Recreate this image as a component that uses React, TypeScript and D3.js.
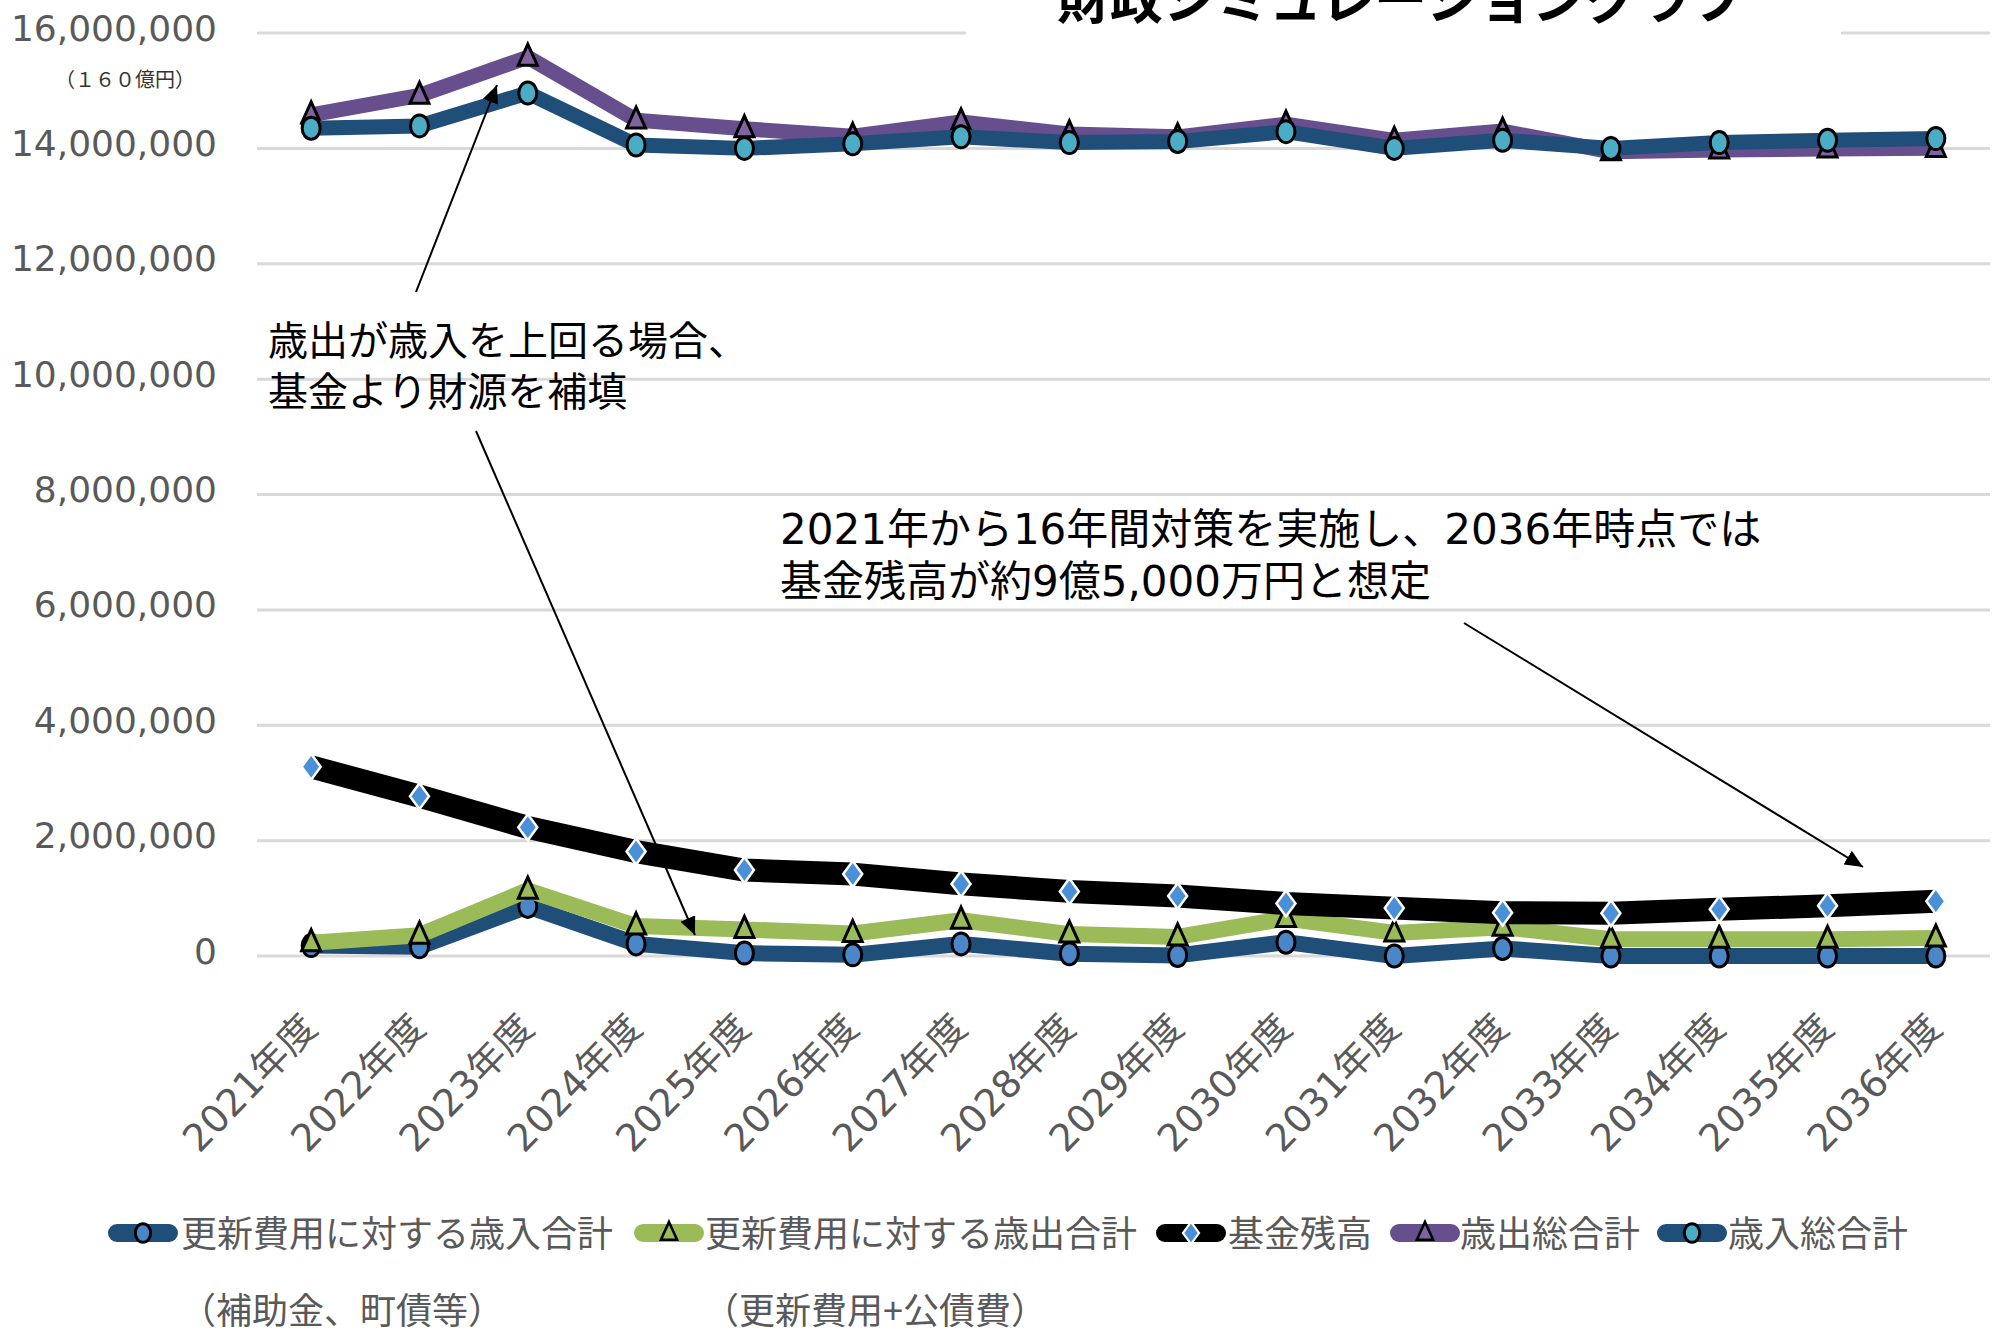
import * as d3 from 'd3';
import React from 'react';

// 単位: 千円
const years = ['2021年度', '2022年度', '2023年度', '2024年度', '2025年度', '2026年度', '2027年度', '2028年度',
  '2029年度', '2030年度', '2031年度', '2032年度', '2033年度', '2034年度', '2035年度', '2036年度'];

const renewalRevenue = [180000, 160000, 860000, 210000, 50000, 20000, 210000, 40000,
  10000, 240000, 0, 130000, 0, 0, 0, 0];
const renewalExpense = [230000, 360000, 1140000, 520000, 460000, 390000, 620000, 380000,
  330000, 650000, 400000, 500000, 290000, 290000, 290000, 310000];
const fundBalance = [3280000, 2770000, 2230000, 1810000, 1490000, 1420000, 1250000, 1120000,
  1040000, 910000, 830000, 750000, 740000, 810000, 870000, 950000];
const expenseTotal = [14580000, 14920000, 15580000, 14490000, 14340000, 14210000, 14460000, 14250000,
  14200000, 14420000, 14140000, 14300000, 13940000, 13970000, 13990000, 14000000];
const revenueTotal = [14350000, 14390000, 14960000, 14060000, 14000000, 14080000, 14200000, 14100000,
  14120000, 14290000, 14000000, 14140000, 14000000, 14100000, 14140000, 14170000];

const yTicks = [0, 2000000, 4000000, 6000000, 8000000, 10000000, 12000000, 14000000, 16000000];

const W = 1999, H = 1333;
const gray = '#595959';
const jp = "'Noto Sans CJK JP', sans-serif";

const tri = 'M0,-13 L9.5,8 L-9.5,8 Z';
const dia = 'M0,-13 L9.5,0 L0,13 L-9.5,0 Z';

type Series = { name: string, values: number[], color: string, width: number, marker: string, fill: string };

const series: Series[] = [
  { name: '更新費用に対する歳入合計', values: renewalRevenue, color: '#1F4E79', width: 16, marker: 'circle', fill: '#4A86C8' },
  { name: '更新費用に対する歳出合計', values: renewalExpense, color: '#9BBB59', width: 16, marker: 'triangle', fill: '#9BBB59' },
  { name: '基金残高', values: fundBalance, color: '#000000', width: 23, marker: 'diamond', fill: '#4A90D9' },
  { name: '歳出総合計', values: expenseTotal, color: '#674E8C', width: 15, marker: 'triangle', fill: '#8064A2' },
  { name: '歳入総合計', values: revenueTotal, color: '#1F4E79', width: 15, marker: 'circle', fill: '#4BACC6' },
];

const Marker = ({ kind, fill, cx, cy, s = 1 }) => {
  const t = `translate(${cx},${cy}) scale(${s})`;
  if (kind === 'circle') return <ellipse cx={cx} cy={cy} rx={9 * s} ry={11 * s} fill={fill} stroke="#000" strokeWidth={3} />;
  if (kind === 'triangle') return <path d={tri} transform={t} fill={fill} stroke="#000" strokeWidth={3} strokeLinejoin="miter" />;
  return <path d={dia} transform={t} fill={fill} stroke="#fff" strokeWidth={2.5} />;
};

const App = () => {
  const x = d3.scalePoint<string>().domain(years).range([257, 1990]).padding(0.5);
  const y = d3.scaleLinear().domain([0, 16000000]).range([956, 33]);
  const line = d3.line<number>().x((_, i) => x(years[i])!).y(d => y(d));

  const legend = [
    { sx: 108, tx: 181, sub: '（補助金、町債等）', subX: 180 },
    { sx: 634, tx: 705, sub: '（更新費用+公債費）', subX: 703 },
    { sx: 1156, tx: 1228 },
    { sx: 1390, tx: 1460 },
    { sx: 1657, tx: 1728 },
  ];
  const ly = 1233;

  return (
    <svg width={W} height={H} style={{ position: 'absolute', left: 0, top: 0, background: '#fff' }}>
      <defs>
        <marker id="arr" markerUnits="userSpaceOnUse" markerWidth={20} markerHeight={16} refX={18} refY={8} orient="auto">
          <path d="M0,0 L18,8 L0,16 Z" fill="#000" />
        </marker>
      </defs>
      <rect width={W} height={H} fill="#fff" />

      {/* grid */}
      {yTicks.map(t => (
        <line key={t} x1={257} x2={1990} y1={y(t)} y2={y(t)} stroke="#D9D9D9" strokeWidth={3} />
      ))}
      {yTicks.map(t => (
        <text key={'l' + t} x={217} y={y(t) - 5} textAnchor="end" dominantBaseline="central"
          fontFamily="'DejaVu Sans', sans-serif" fontSize={36} fill={gray}>{d3.format(',')(t)}</text>
      ))}
      <text x={125} y={78} textAnchor="middle" dominantBaseline="central" fontFamily={jp} fontSize={20} fill="#333">（１６０億円）</text>

      {/* title (cut at top) */}
      <rect x={966} y={0} width={875} height={46} fill="#fff" />
      <text x={1057} y={19} fontFamily={jp} fontWeight={700} fontSize={53} fill="#000">財政シミュレーショングラフ</text>

      {/* series */}
      {series.map(s => (
        <g key={s.name}>
          <path d={line(s.values)!} fill="none" stroke={s.color} strokeWidth={s.width} strokeLinejoin="round" strokeLinecap="butt" />
          {s.values.map((v, i) => (
            <Marker key={i} kind={s.marker} fill={s.fill} cx={x(years[i])} cy={y(v)} />
          ))}
        </g>
      ))}

      {/* x labels */}
      {years.map(yr => (
        <text key={yr} transform={`translate(${x(yr)! + 8},1030) rotate(-46)`} textAnchor="end"
          fontFamily={"'DejaVu Sans', " + jp} fontSize={38} fill={gray}>{yr}</text>
      ))}

      {/* annotations */}
      <text x={268} y={338} dominantBaseline="central" fontFamily={jp} fontSize={40} fill="#000">歳出が歳入を上回る場合、</text>
      <text x={268} y={389} dominantBaseline="central" fontFamily={jp} fontSize={40} fill="#000">基金より財源を補填</text>
      <text x={780} y={529} dominantBaseline="central" fontFamily={"'DejaVu Sans', " + jp} fontSize={42} fill="#000">2021年から16年間対策を実施し、2036年時点では</text>
      <text x={780} y={581} dominantBaseline="central" fontFamily={"'DejaVu Sans', " + jp} fontSize={42} fill="#000">基金残高が約9億5,000万円と想定</text>

      <line x1={416} y1={292} x2={497} y2={85} stroke="#000" strokeWidth={2} markerEnd="url(#arr)" />
      <line x1={476} y1={431} x2={695} y2={935} stroke="#000" strokeWidth={2} markerEnd="url(#arr)" />
      <line x1={1464} y1={623} x2={1863} y2={867} stroke="#000" strokeWidth={2} markerEnd="url(#arr)" />

      {/* legend */}
      {series.map((s, i) => {
        const L = legend[i];
        return (
          <g key={'lg' + s.name}>
            <line x1={L.sx + 9} x2={L.sx + 61} y1={ly} y2={ly} stroke={s.color} strokeWidth={18} strokeLinecap="round" />
            <Marker kind={s.marker} fill={s.fill} cx={L.sx + 35} cy={ly} s={0.85} />
            <text x={L.tx} y={ly - 2} dominantBaseline="central" fontFamily={jp} fontSize={36} fill={gray}>{s.name}</text>
            {L.sub && <text x={L.subX} y={1308} dominantBaseline="central" fontFamily={jp} fontSize={36} fill={gray}>{L.sub}</text>}
          </g>
        );
      })}
    </svg>
  );
};

export default App;
